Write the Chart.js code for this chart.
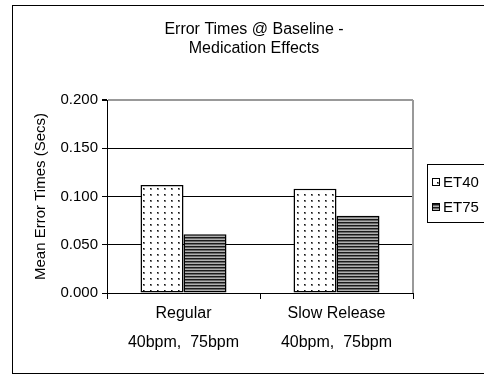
<!DOCTYPE html>
<html>
<head>
<meta charset="utf-8">
<script src="https://cdn.jsdelivr.net/npm/chart.js"></script>
<style>
  html, body { margin: 0; padding: 0; background: #fff; }
  #wrap { width: 484px; height: 376px; }
</style>
</head>
<body>
<div id="wrap"><canvas id="errorChart" width="484" height="376"></canvas></div>
<script>
// Chart data
const categories = [['Regular', '40bpm,  75bpm'], ['Slow Release', '40bpm,  75bpm']];
const seriesNames = ['ET40', 'ET75'];
const et40Values = [0.112, 0.108];
const et75Values = [0.061, 0.080];
const titleLines = ['Error Times @ Baseline -', 'Medication Effects'];
const yAxisTitle = 'Mean Error Times (Secs)';
const yMin = 0, yMax = 0.2, yStep = 0.05;

const FONT = '"Liberation Sans", Arial, sans-serif';

// fill patterns like the old Excel chart
function makeDots() {
    const c = document.createElement('canvas');
    c.width = 7; c.height = 6;
    const g = c.getContext('2d');
    g.fillStyle = '#fff';
    g.fillRect(0, 0, 7, 6);
    g.fillStyle = '#777';
    g.fillRect(3, 2, 2, 2);
    g.fillStyle = '#111';
    g.fillRect(3, 2, 1, 1);
    return g.createPattern(c, 'repeat');
}

function makeStripes() {
    const c = document.createElement('canvas');
    c.width = 4; c.height = 3;
    const g = c.getContext('2d');
    g.fillStyle = '#1a1a1a';
    g.fillRect(0, 0, 4, 1);
    g.fillStyle = '#6a6a6a';
    g.fillRect(0, 1, 4, 1);
    g.fillStyle = '#b0b0b0';
    g.fillRect(0, 2, 4, 1);
    return g.createPattern(c, 'repeat');
}

const fills = [makeDots(), makeStripes()];

// title, outer frame, plot border and legend box
const decorPlugin = {
    id: 'decor',
    afterDraw(chart) {
        const ctx = chart.ctx;
        const area = chart.chartArea;
        ctx.save();

        // outer frame
        ctx.strokeStyle = '#000';
        ctx.lineWidth = 1;
        ctx.strokeRect(12.5, 5.5, 520, 368);

        // right border of plot area
        ctx.strokeStyle = '#999';
        ctx.lineWidth = 2;
        ctx.beginPath();
        ctx.moveTo(area.right, area.top);
        ctx.lineTo(area.right, area.bottom);
        ctx.stroke();

        // title
        ctx.fillStyle = '#000';
        ctx.font = '16px ' + FONT;
        ctx.textAlign = 'center';
        ctx.textBaseline = 'middle';
        ctx.fillText(titleLines[0], 254, 30);
        ctx.fillText(titleLines[1], 254, 49);

        // legend
        ctx.font = '15px ' + FONT;
        ctx.strokeStyle = '#000';
        ctx.lineWidth = 1;
        ctx.strokeRect(427.5, 164.5, 80, 58);
        ctx.textAlign = 'left';
        const rowsY = [182, 207];
        chart.data.datasets.forEach(function (ds, i) {
            const y = rowsY[i];
            ctx.fillStyle = ds.backgroundColor;
            ctx.fillRect(432, y - 4, 8, 8);
            ctx.strokeStyle = '#000';
            ctx.strokeRect(432.5, y - 3.5, 7, 7);
            ctx.fillStyle = '#000';
            ctx.fillText(ds.label, 443, y + 1);
        });
        ctx.restore();
    }
};

const ctx = document.getElementById('errorChart').getContext('2d');
const errorChart = new Chart(ctx, {
    type: 'bar',
    data: {
        labels: categories,
        datasets: [
            {
                label: seriesNames[0],
                data: et40Values,
                backgroundColor: fills[0],
                borderColor: '#000',
                borderWidth: 1.5,
                borderSkipped: false
            },
            {
                label: seriesNames[1],
                data: et75Values,
                backgroundColor: fills[1],
                borderColor: '#000',
                borderWidth: 1.5,
                borderSkipped: false
            }
        ]
    },
    options: {
        responsive: false,
        animation: false,
        events: [],
        layout: { padding: { left: 0, top: 100, right: 71, bottom: 0 } },
        datasets: { bar: { categoryPercentage: 0.562, barPercentage: 1 } },
        plugins: {
            legend: { display: false },
            title: { display: false },
            tooltip: { enabled: false }
        },
        scales: {
            x: {
                offset: true,
                grid: {
                    offset: true,
                    drawOnChartArea: false,
                    drawTicks: true,
                    tickLength: 6,
                    tickColor: '#000'
                },
                border: { color: '#000', width: 1 },
                ticks: {
                    color: '#000',
                    padding: 0,
                    maxRotation: 0,
                    font: { family: FONT, size: 16, lineHeight: 1.8 }
                },
                afterFit: function (scale) { scale.height = 83; }
            },
            y: {
                min: yMin,
                max: yMax,
                grid: {
                    color: function (c) { return c.tick && c.tick.value >= yMax ? '#999' : '#000'; },
                    lineWidth: function (c) { return c.tick && c.tick.value >= yMax ? 2 : 1; },
                    tickColor: '#000',
                    tickLength: 5
                },
                border: { color: '#000', width: 1 },
                ticks: {
                    stepSize: yStep,
                    color: '#000',
                    padding: 4,
                    font: { family: FONT, size: 15 },
                    callback: function (v) { return v.toFixed(3); }
                },
                title: {
                    display: true,
                    text: yAxisTitle,
                    color: '#000',
                    font: { family: FONT, size: 15 },
                    padding: { top: 32, bottom: 0 }
                },
                afterFit: function (scale) { scale.width = 107; }
            }
        }
    },
    plugins: [decorPlugin]
});
</script>
</body>
</html>
